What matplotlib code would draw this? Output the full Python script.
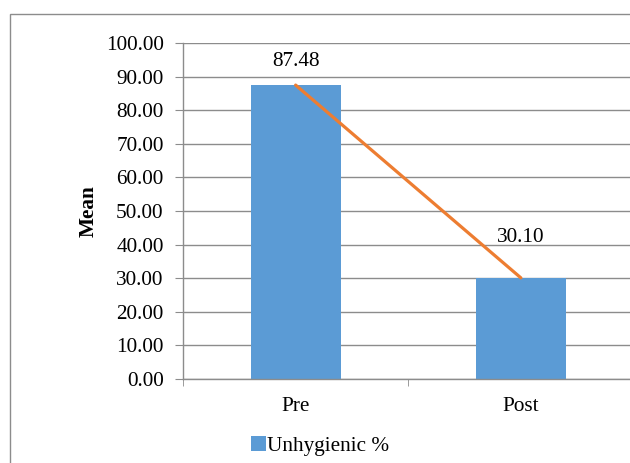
import matplotlib
matplotlib.use("Agg")
import matplotlib.pyplot as plt
from matplotlib.patches import Rectangle

categories = ["Pre", "Post"]
unhygienic = [87.48, 30.10]
value_labels = ["87.48", "30.10"]
y_ticks = [0, 10, 20, 30, 40, 50, 60, 70, 80, 90, 100]

plt.rcParams["font.family"] = ["Liberation Serif", "DejaVu Serif"]
FS = 15.3

fig = plt.figure(figsize=(6.3, 4.63), dpi=100)
# outer chart frame
fig.patches.append(Rectangle((10 / 630, -0.1), 1.2, 1 - 14 / 463 + 0.1,
                             transform=fig.transFigure, fill=False,
                             edgecolor="#8c8c8c", linewidth=1.0))

ax = fig.add_axes([183 / 630, 1 - 379 / 463, 450.5 / 630, 336 / 463])
x = list(range(len(categories)))
bar_color = "#5B9BD5"
ax.bar(x, unhygienic, width=0.4, color=bar_color, zorder=2,
       label="Unhygienic %")
ax.plot(x, unhygienic, color="#ED7D31", linewidth=2.3, zorder=3,
        solid_capstyle="round")

offsets = [10, 22]
for xi, v, lab, off in zip(x, unhygienic, value_labels, offsets):
    ax.annotate(lab, (xi, v), xytext=(0, off), textcoords="offset points",
                ha="center", va="bottom", fontsize=FS, color="black")

ax.set_xlim(-0.5, 1.5)
ax.set_ylim(0, 100)
ax.set_yticks(y_ticks)
ax.set_yticklabels([f"{t:.2f}" for t in y_ticks], fontsize=FS)
ax.set_xticks(x)
ax.set_xticklabels(categories, fontsize=FS)
ax.tick_params(axis="x", length=0, pad=13)
ax.set_xticks([-0.5, 0.5, 1.5], minor=True)
ax.tick_params(axis="x", which="minor", length=5, color="#8c8c8c")
ax.tick_params(axis="y", length=6, color="#8c8c8c", pad=8)
ax.yaxis.grid(True, color="#8c8c8c", linewidth=1.0, zorder=0)
ax.set_axisbelow(True)
for side in ["top", "right"]:
    ax.spines[side].set_visible(False)
for side in ["left", "bottom"]:
    ax.spines[side].set_color("#8c8c8c")
    ax.spines[side].set_linewidth(1.0)

ax.set_ylabel("Mean", fontsize=FS, fontweight="bold", labelpad=5)

handles, labels = ax.get_legend_handles_labels()
fig.legend(handles[:1], labels[:1], loc="center left",
           bbox_to_anchor=(251 / 630, 1 - 446 / 463), frameon=False,
           fontsize=FS, handlelength=0.7, handleheight=0.7,
           handletextpad=0.05, borderpad=0, borderaxespad=0)

fig.savefig("out.png", dpi=100)
